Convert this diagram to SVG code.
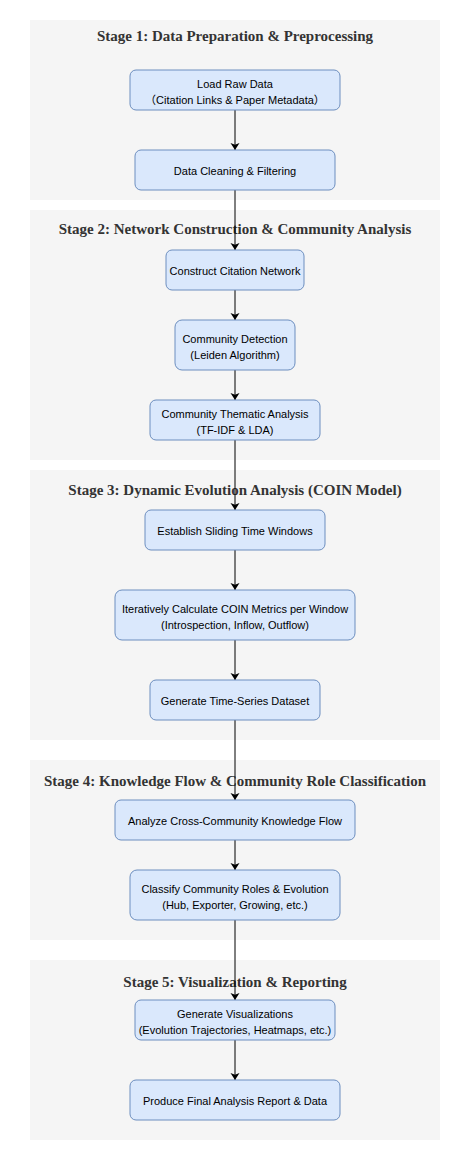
<svg xmlns="http://www.w3.org/2000/svg" width="470" height="1160" viewBox="0 0 470 1160">
<defs>
<style>
.stage{fill:#f5f5f5;stroke:none}
.title{font-family:"Liberation Serif","Times New Roman",serif;font-weight:bold;font-size:15px;fill:#333333;text-anchor:middle;dominant-baseline:central}
.node rect{fill:#dae8fc;stroke:#6c8ebf;stroke-width:1}
.node text{font-family:"Liberation Sans",Arial,"Noto Sans CJK SC",sans-serif;font-size:11px;fill:#000000;text-anchor:middle;dominant-baseline:central}
.edge{stroke:#000000;stroke-width:1;fill:none;marker-end:url(#arrow)}
</style>
<marker id="arrow" markerUnits="userSpaceOnUse" markerWidth="10" markerHeight="10" refX="7" refY="4.5" orient="auto">
<path d="M0,0 L7,4.5 L0,9 L1.8,4.5 Z" fill="#000000"/>
</marker>
</defs>
<rect width="470" height="1160" fill="#ffffff"/>
<g id="stages">
<g id="stage1"><rect class="stage" x="30" y="20" width="410" height="180"/><text class="title" x="235" y="36">Stage 1: Data Preparation &amp; Preprocessing</text></g>
<g id="stage2"><rect class="stage" x="30" y="210" width="410" height="250"/><text class="title" x="235" y="229">Stage 2: Network Construction &amp; Community Analysis</text></g>
<g id="stage3"><rect class="stage" x="30" y="470" width="410" height="270"/><text class="title" x="235" y="490">Stage 3: Dynamic Evolution Analysis (COIN Model)</text></g>
<g id="stage4"><rect class="stage" x="30" y="760" width="410" height="180"/><text class="title" x="235" y="781">Stage 4: Knowledge Flow &amp; Community Role Classification</text></g>
<g id="stage5"><rect class="stage" x="30" y="960" width="410" height="180"/><text class="title" x="235" y="982">Stage 5: Visualization &amp; Reporting</text></g>
</g>
<g id="connectors">
<path class="edge" d="M235,110 L235,150"/>
<path class="edge" d="M235,190 L235,250"/>
<path class="edge" d="M235,290 L235,320"/>
<path class="edge" d="M235,370 L235,400"/>
<path class="edge" d="M235,440 L235,510"/>
<path class="edge" d="M235,550 L235,590"/>
<path class="edge" d="M235,640 L235,680"/>
<path class="edge" d="M235,720 L235,800"/>
<path class="edge" d="M235,840 L235,870"/>
<path class="edge" d="M235,920 L235,1000"/>
<path class="edge" d="M235,1040 L235,1080"/>
</g>
<g id="n1" class="node"><rect x="130" y="70" width="210" height="40" rx="6"/><text x="235" y="84">Load Raw Data</text><text x="235" y="99.5">（Citation Links &amp; Paper Metadata）</text></g>
<g id="n2" class="node"><rect x="135" y="150" width="200" height="40" rx="6"/><text x="235" y="170.5">Data Cleaning &amp; Filtering</text></g>
<g id="n3" class="node"><rect x="166" y="250" width="138" height="40" rx="6"/><text x="235" y="270.5">Construct Citation Network</text></g>
<g id="n4" class="node"><rect x="175" y="320" width="120" height="50" rx="7"/><text x="235" y="339">Community Detection</text><text x="235" y="355">(Leiden Algorithm)</text></g>
<g id="n5" class="node"><rect x="150" y="400" width="170" height="40" rx="6"/><text x="235" y="414">Community Thematic Analysis</text><text x="235" y="430">(TF-IDF &amp; LDA)</text></g>
<g id="n6" class="node"><rect x="145" y="510" width="180" height="40" rx="6"/><text x="235" y="531">Establish Sliding Time Windows</text></g>
<g id="n7" class="node"><rect x="115" y="590" width="240" height="50" rx="7"/><text x="235" y="609">Iteratively Calculate COIN Metrics per Window</text><text x="235" y="624.5">(Introspection, Inflow, Outflow)</text></g>
<g id="n8" class="node"><rect x="150" y="680" width="170" height="40" rx="6"/><text x="235" y="701">Generate Time-Series Dataset</text></g>
<g id="n9" class="node"><rect x="115" y="800" width="240" height="40" rx="6"/><text x="235" y="821">Analyze Cross-Community Knowledge Flow</text></g>
<g id="n10" class="node"><rect x="130" y="870" width="210" height="50" rx="7"/><text x="235" y="889">Classify Community Roles &amp; Evolution</text><text x="235" y="905">(Hub, Exporter, Growing, etc.)</text></g>
<g id="n11" class="node"><rect x="135" y="1000" width="200" height="40" rx="6"/><text x="235" y="1014">Generate Visualizations</text><text x="235" y="1030">(Evolution Trajectories, Heatmaps, etc.)</text></g>
<g id="n12" class="node"><rect x="130" y="1080" width="210" height="40" rx="6"/><text x="235" y="1101">Produce Final Analysis Report &amp; Data</text></g>
</svg>
